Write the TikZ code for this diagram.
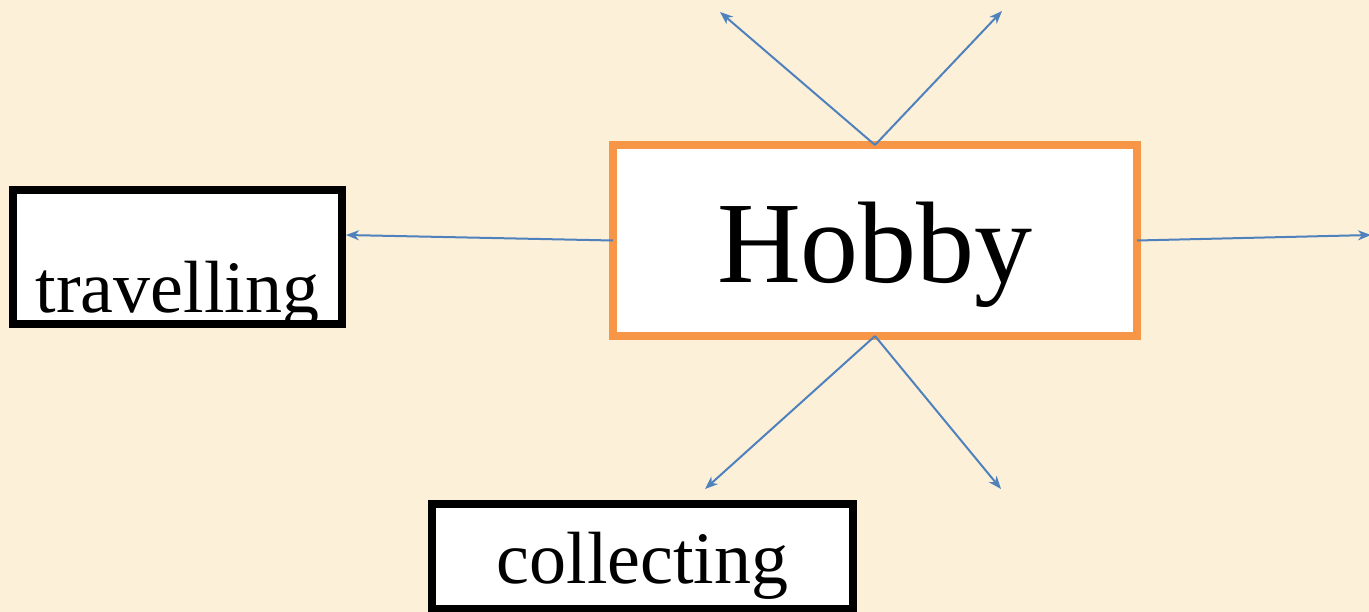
\documentclass[tikz,border=0pt]{standalone}
\usepackage{fontspec}
\setmainfont{Liberation Serif}
\usetikzlibrary{arrows.meta}
\definecolor{bgcol}{RGB}{252,240,217}
\definecolor{hobbyorange}{RGB}{247,150,70}
\definecolor{arrowblue}{RGB}{79,129,189}
\tikzset{
  boxblack/.style={draw=black, line width=8pt, fill=white, inner sep=0pt, outer sep=0pt, align=center},
  boxorange/.style={draw=hobbyorange, line width=8pt, fill=white, inner sep=0pt, outer sep=0pt},
  link/.style={draw=arrowblue, line width=2pt, -{Stealth[length=13pt,width=10pt,inset=4pt]}},
}
\begin{document}
\begin{tikzpicture}[x=1pt,y=-1pt]
  \useasboundingbox (0,0) rectangle (1369,612);
  \fill[bgcol] (0,0) rectangle (1369,612);
  \begin{scope}
  \clip (0,0) rectangle (1369,612);
  % Hobby
  \node[boxorange, minimum width=524pt, text height=138pt, text depth=53pt,
        font=\fontsize{116}{120}\selectfont] (hobby) at (875,240.5) {Hobby};
  % travelling
  \node[boxblack, minimum width=329pt, text height=123pt, text depth=11pt,
        font=\fontsize{74}{80}\selectfont, anchor=north west] (travel) at (13,190) {travelling};
  % collecting
  \node[boxblack, minimum width=421pt, text height=79pt, text depth=26pt,
        font=\fontsize{74}{80}\selectfont, anchor=north west] (collect) at (432,504) {collecting};
  \end{scope}
  % free ends
  \coordinate (tl) at (720,12);
  \coordinate (tr) at (1002,11);
  \coordinate (bl) at (705,489);
  \coordinate (br) at (1001,489);
  \coordinate (rr) at (1371,235);
  \coordinate (tt) at (346,235);
  \draw[link] (hobby.north) -- (tl);
  \draw[link] (hobby.north) -- (tr);
  \draw[link] (hobby.south) -- (bl);
  \draw[link] (hobby.south) -- (br);
  \draw[link] (hobby.east) -- (rr);
  \draw[link] (hobby.west) -- (tt);
\end{tikzpicture}
\end{document}
